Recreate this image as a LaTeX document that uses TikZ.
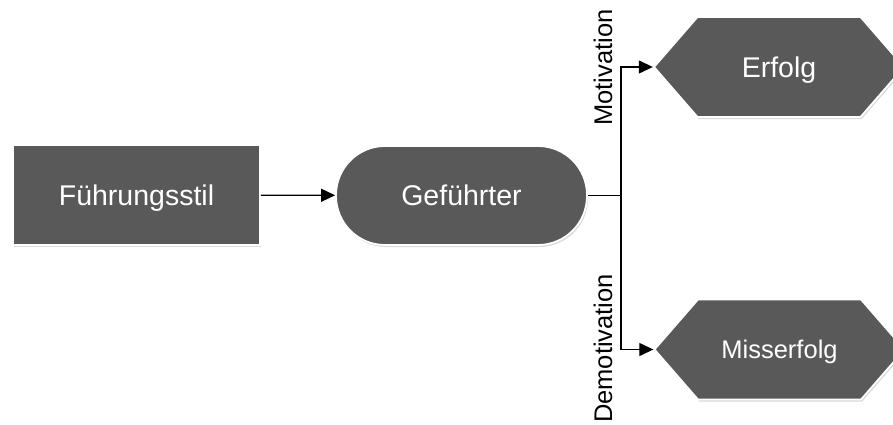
\documentclass[tikz,border=0pt]{standalone}
\usepackage{fontspec}
\setmainfont{Liberation Sans}
\usetikzlibrary{arrows.meta,shapes.symbols,shadows}

\definecolor{boxgray}{HTML}{595959}

\tikzset{
  block/.style={draw=white, line width=1.8pt, fill=boxgray, text=white,
    drop shadow={opacity=0.3, shadow xshift=1.2pt, shadow yshift=-2pt},
    font=\fontsize{28.5}{30}\selectfont, inner sep=0pt, text depth=0pt},
  squarebox/.style={block, rectangle, minimum width=247pt, minimum height=100pt},
  pillbox/.style={block, rectangle, rounded corners=49pt, minimum width=251pt, minimum height=99pt},
  hexbox/.style={block, signal, signal to=west and east, signal pointer angle=98,
    minimum width=250pt, minimum height=100pt},
  link/.style={line width=1.3pt, draw=black},
  arr/.style={link, -{Triangle[length=14pt,width=13pt]}},
  sidelabel/.style={rotate=90, font=\fontsize{25.5}{27}\selectfont, inner sep=0pt}
}

\begin{document}
\begin{tikzpicture}[x=1pt, y=-1pt]
  \useasboundingbox (0,0) rectangle (893,425);

  \node[squarebox] (style) at (136.5,195) {Führungsstil};
  \node[pillbox] (led) at (461.5,195.5) {Geführter};
  \node[hexbox] (win) at (779,67) {Erfolg};
  \node[hexbox, font=\fontsize{25.5}{27}\selectfont] (fail) at (779.5,349.5) {Misserfolg};

  \node[sidelabel] (mot) at (603,67.5) {Motivation};
  \node[sidelabel] (demot) at (603,348.5) {Demotivation};

  \draw[arr] (style) -- (led);
  \draw[link] (led.east) -- ++(33,0) coordinate (split);
  \draw[arr] (split) |- (win.west);
  \draw[arr] (split) |- (fail.west);
\end{tikzpicture}
\end{document}
